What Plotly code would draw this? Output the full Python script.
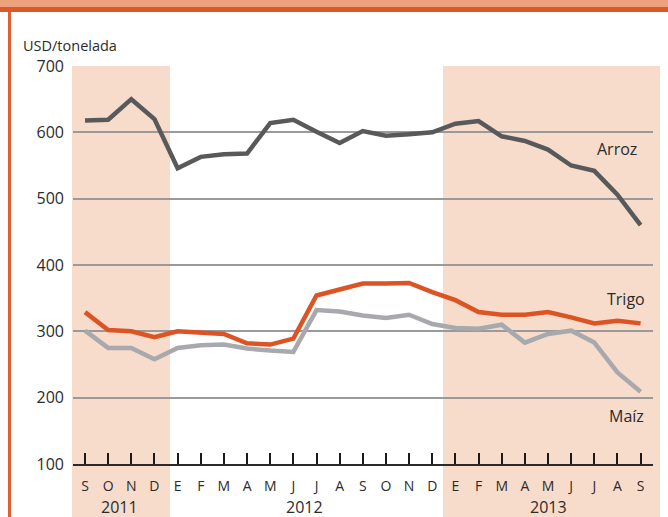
import plotly.graph_objects as go

months = ["S", "O", "N", "D", "E", "F", "M", "A", "M", "J", "J", "A", "S",
          "O", "N", "D", "E", "F", "M", "A", "M", "J", "J", "A", "S"]
years = ["2011", "2012", "2013"]
year_centers = [1.5, 9.5, 20.0]

arroz = [618, 619, 650, 620, 546, 563, 567, 568, 614, 619, 601, 584, 602,
         595, 597, 600, 613, 617, 594, 587, 574, 550, 542, 506, 460]
trigo = [329, 302, 300, 291, 300, 298, 296, 282, 280, 289, 354, 363, 372,
         372, 373, 359, 347, 329, 325, 325, 329, 321, 312, 316, 312]
maiz = [301, 275, 275, 258, 275, 279, 280, 274, 271, 269, 332, 330, 324,
        320, 325, 311, 305, 304, 310, 283, 296, 301, 283, 238, 209]

W, H = 668, 517
L, R, T, B = 73, 15, 66, 53
PW, PH = W - L - R, H - T - B


def px(x):
    return (x - L) / PW


def py(y):
    return (H - B - y) / PH


x = list(range(len(months)))
FONT = "Open Sans"
TXT = "#2b2b2b"

fig = go.Figure()
fig.add_trace(go.Scatter(x=x, y=maiz, mode="lines", line=dict(color="#a7a9ac", width=4.5), name="Maíz"))
fig.add_trace(go.Scatter(x=x, y=trigo, mode="lines", line=dict(color="#dc5424", width=4.5), name="Trigo"))
fig.add_trace(go.Scatter(x=x, y=arroz, mode="lines", line=dict(color="#58595b", width=4.5), name="Arroz"))

shade = "#f7dccb"
shapes = [
    dict(type="rect", xref="paper", yref="paper", x0=px(72), x1=px(170), y0=py(517), y1=py(66),
         fillcolor=shade, line=dict(width=0), layer="below"),
    dict(type="rect", xref="paper", yref="paper", x0=px(443), x1=px(660), y0=py(517), y1=py(66),
         fillcolor=shade, line=dict(width=0), layer="below"),
    dict(type="rect", xref="paper", yref="paper", x0=px(0), x1=px(668), y0=py(0), y1=py(7),
         fillcolor="#eda27e", line=dict(width=0)),
    dict(type="rect", xref="paper", yref="paper", x0=px(0), x1=px(668), y0=py(7), y1=py(12),
         fillcolor="#dd5a28", line=dict(width=0)),
    dict(type="rect", xref="paper", yref="paper", x0=px(8), x1=px(11), y0=py(12), y1=py(517),
         fillcolor="#e0602f", line=dict(width=0)),
]

annotations = [
    dict(text="USD/tonelada", xref="paper", yref="paper", x=px(21), y=py(45), xanchor="left",
         yanchor="middle", showarrow=False, font=dict(family=FONT, size=14.5, color=TXT)),
    dict(text="Arroz", xref="paper", yref="y", x=px(617), y=575, xanchor="center", yanchor="middle",
         showarrow=False, font=dict(family=FONT, size=16, color=TXT)),
    dict(text="Trigo", xref="paper", yref="y", x=px(626), y=348, xanchor="center", yanchor="middle",
         showarrow=False, font=dict(family=FONT, size=16, color=TXT)),
    dict(text="Maíz", xref="paper", yref="y", x=px(626), y=173, xanchor="center", yanchor="middle",
         showarrow=False, font=dict(family=FONT, size=16, color=TXT)),
]
for yr, c in zip(years, year_centers):
    annotations.append(dict(text=yr, xref="x", yref="paper", x=c, y=py(507), xanchor="center",
                            yanchor="middle", showarrow=False, font=dict(family=FONT, size=16, color=TXT)))

spacing = 23.15
fig.update_layout(
    width=W, height=H, autosize=False,
    margin=dict(l=L, r=R, t=T, b=B, pad=0),
    paper_bgcolor="white", plot_bgcolor="rgba(0,0,0,0)",
    showlegend=False,
    shapes=shapes, annotations=annotations,
    xaxis=dict(range=[-(85 - L) / spacing, 24 + (653 - 640.6) / spacing],
               tickvals=x, ticktext=months, ticks="inside", ticklen=11, tickwidth=2,
               tickcolor="#1a1a1a", showline=True, linecolor="#2a2a2a", linewidth=2,
               showgrid=False, zeroline=False, ticklabelstandoff=8,
               tickfont=dict(family=FONT, size=14, color=TXT)),
    yaxis=dict(range=[100, 700], tickvals=[100, 200, 300, 400, 500, 600, 700],
               showgrid=True, gridcolor="#9a9a9a", gridwidth=1.5, zeroline=False,
               showline=False, ticks="", ticklabelstandoff=8,
               tickfont=dict(family=FONT, size=16, color=TXT)),
)

fig.write_html("out.html", config={"displayModeBar": False},
               post_script="document.body.style.margin='0';document.body.style.overflow='hidden';")
